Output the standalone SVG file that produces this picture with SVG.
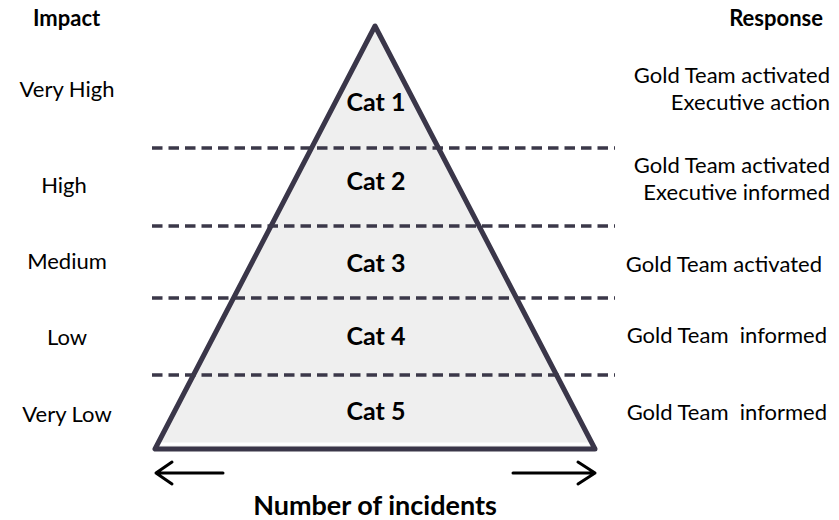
<svg xmlns="http://www.w3.org/2000/svg" width="839" height="520" viewBox="0 0 839 520">
<style>
text{font-family:Lato,"Open Sans","Liberation Sans",sans-serif;fill:#000}
.r{font-size:22px}
.b{font-size:22px;font-weight:bold}
.cat{font-size:25px;font-weight:bold;text-anchor:middle}
.m{text-anchor:middle}
.e{text-anchor:end}
.pre{white-space:pre}
.dash{stroke:#3b3849;stroke-width:3.5;stroke-dasharray:10.5 6;fill:none}
.arr{stroke:#000;stroke-width:3;fill:none;stroke-linecap:round;stroke-linejoin:round}
</style>
<rect width="839" height="520" fill="#fff"/>
<g id="pyramid">
<polygon points="375,26 155,449 595,449" fill="#efefef"/>
<rect x="158" y="442.5" width="434" height="3" fill="#fff"/>
<polygon points="375,26 155,449 595,449" fill="none" stroke="#3a3649" stroke-width="5" stroke-linejoin="round"/>
</g>
<g id="connectors">
<line class="dash" x1="152" y1="148" x2="615" y2="148"/>
<line class="dash" x1="152" y1="226" x2="615" y2="226"/>
<line class="dash" x1="152" y1="298" x2="615" y2="298"/>
<line class="dash" x1="152" y1="375" x2="615" y2="375"/>
<path class="arr" d="M223,473 L156,473 M172,462 L156,473 L172,484"/>
<path class="arr" d="M513,473 L595,473 M578,462 L595,473 L578,484"/>
</g>
<g id="cats">
<text class="cat" x="376" y="111">Cat 1</text>
<text class="cat" x="376" y="190">Cat 2</text>
<text class="cat" x="376" y="272">Cat 3</text>
<text class="cat" x="376" y="345">Cat 4</text>
<text class="cat" x="376" y="420">Cat 5</text>
</g>
<g id="impact">
<text class="b" x="33" y="26">Impact</text>
<text class="r m" x="67" y="97">Very High</text>
<text class="r m" x="64" y="193">High</text>
<text class="r m" x="67" y="269">Medium</text>
<text class="r m" x="67" y="345">Low</text>
<text class="r m" x="67" y="422">Very Low</text>
</g>
<g id="response">
<text class="b e" x="823" y="26">Response</text>
<text class="r e" x="830" y="83">Gold Team activated</text>
<text class="r e" x="830" y="110">Executive action</text>
<text class="r e" x="830" y="173">Gold Team activated</text>
<text class="r e" x="830" y="200">Executive informed</text>
<text class="r e" x="822" y="272">Gold Team activated</text>
<text class="r e pre" x="827" y="343">Gold Team  informed</text>
<text class="r e pre" x="827" y="420">Gold Team  informed</text>
</g>
<g id="axis">
<text class="m" x="375" y="515" style="font-size:27px;font-weight:bold">Number of incidents</text>
</g>
</svg>
